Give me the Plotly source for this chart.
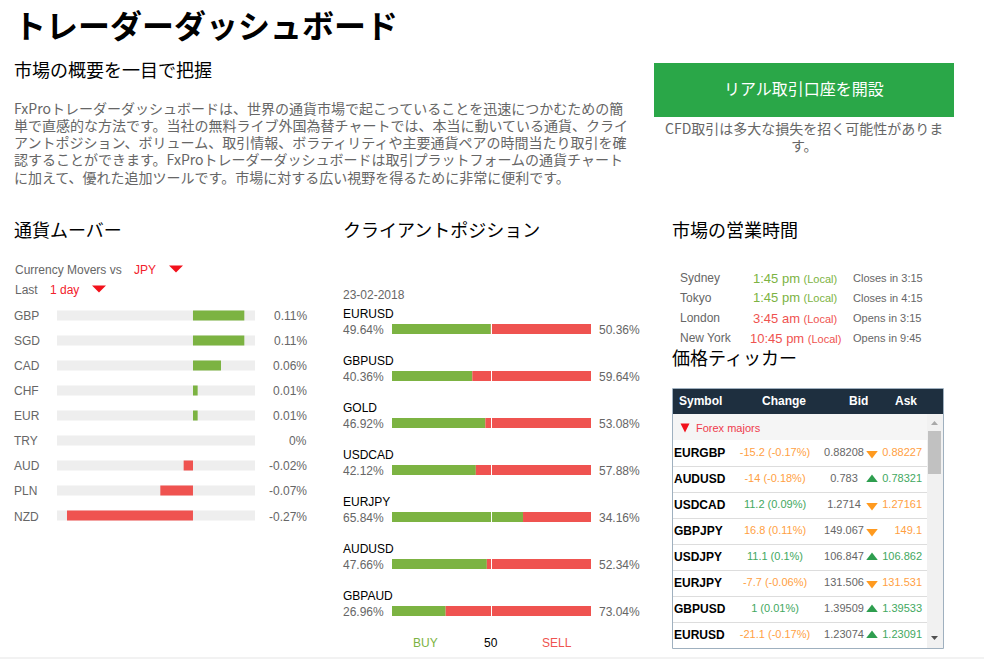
import plotly.graph_objects as go

W, H = 984, 659
JP = "Noto Sans CJK JP, sans-serif"
AR = "Liberation Sans, Arial, sans-serif"
GREEN = "#7cb342"
RED = "#ef5350"
GREY = "#666666"
ORANGE = "#ff9f43"
UP = "#43a860"

# currency movers
mover_names = ["GBP", "SGD", "CAD", "CHF", "EUR", "TRY", "AUD", "PLN", "NZD"]
mover_values = [0.11, 0.11, 0.06, 0.01, 0.01, 0, -0.02, -0.07, -0.27]

# client positions
pairs = ["EURUSD", "GBPUSD", "GOLD", "USDCAD", "EURJPY", "AUDUSD", "GBPAUD"]
buy = [49.64, 40.36, 46.92, 42.12, 65.84, 47.66, 26.96]
sell = [50.36, 59.64, 53.08, 57.88, 34.16, 52.34, 73.04]

# market hours
cities = ["Sydney", "Tokyo", "London", "New York"]
city_times = ["1:45 pm", "1:45 pm", "3:45 am", "10:45 pm"]
city_open = [True, True, False, False]
city_status = ["Closes in 3:15", "Closes in 4:15", "Opens in 3:15", "Opens in 9:45"]

# price ticker
symbols = ["EURGBP", "AUDUSD", "USDCAD", "GBPJPY", "USDJPY", "EURJPY", "GBPUSD", "EURUSD"]
changes = ["-15.2 (-0.17%)", "-14 (-0.18%)", "11.2 (0.09%)", "16.8 (0.11%)",
           "11.1 (0.1%)", "-7.7 (-0.06%)", "1 (0.01%)", "-21.1 (-0.17%)"]
change_up = [False, False, True, False, True, False, True, False]
bids = ["0.88208", "0.783", "1.2714", "149.067", "106.847", "131.506", "1.39509", "1.23074"]
asks = ["0.88227", "0.78321", "1.27161", "149.1", "106.862", "131.531", "1.39533", "1.23091"]
ask_up = [False, True, False, False, True, False, True, True]

body_lines = [
    "FxProトレーダーダッシュボードは、世界の通貨市場で起こっていることを迅速につかむための簡",
    "単で直感的な方法です。当社の無料ライブ外国為替チャートでは、本当に動いている通貨、クライ",
    "アントポジション、ボリューム、取引情報、ボラティリティや主要通貨ペアの時間当たり取引を確",
    "認することができます。FxProトレーダーダッシュボードは取引プラットフォームの通貨チャート",
    "に加えて、優れた追加ツールです。市場に対する広い視野を得るために非常に便利です。",
]


def px(x):
    return x / W


def py(y):
    return 1 - y / H


annotations = []
shapes = []


def label(x, y, text, size=12, color=GREY, font=AR, anchor="left", yref="paper"):
    # Noto CJK sits a pixel lower than the reference font
    if font == JP:
        y -= 1
    annotations.append(dict(
        x=px(x), xref="paper", y=py(y) if yref == "paper" else y, yref=yref,
        yshift=0 if yref == "paper" else -1,
        text=text, showarrow=False, xanchor=anchor, yanchor="middle", borderpad=0, borderwidth=0,
        font=dict(family=font, size=size, color=color),
    ))


def rect(x0, y0, x1, y1, fill, line=None, layer="below"):
    shapes.append(dict(
        type="rect", xref="paper", yref="paper", x0=px(x0), x1=px(x1), y0=py(y0), y1=py(y1),
        fillcolor=fill, line=dict(width=1 if line else 0, color=line or fill), layer=layer,
    ))


def triangle(x, y, w, h, color, down=True):
    tip = y + h / 2 if down else y - h / 2
    base = y - h / 2 if down else y + h / 2
    shapes.append(dict(
        type="path", xref="paper", yref="paper", fillcolor=color, line=dict(width=0),
        path=f"M {px(x - w / 2)} {py(base)} L {px(x + w / 2)} {py(base)} L {px(x)} {py(tip)} Z",
    ))


fig = go.Figure()

# movers: grey track first, then the value from zero
mover_range = [-0.2914, 0.1329]
fig.add_trace(go.Bar(
    y=mover_names, x=[mover_range[1] - mover_range[0]] * len(mover_names), base=mover_range[0],
    orientation="h", width=0.4, marker=dict(color="#eeeeee", line=dict(width=0)),
    xaxis="x", yaxis="y",
))
fig.add_trace(go.Bar(
    y=mover_names, x=mover_values, base=0, orientation="h", width=0.4,
    marker=dict(color=[GREEN if v > 0 else RED for v in mover_values], line=dict(width=0)),
    xaxis="x", yaxis="y",
))

# clients: buy and sell side by side on 0-100
fig.add_trace(go.Bar(
    y=pairs, x=buy, base=0, orientation="h", width=10 / 47,
    marker=dict(color=GREEN, line=dict(width=0)), xaxis="x2", yaxis="y2",
))
fig.add_trace(go.Bar(
    y=pairs, x=sell, base=buy, orientation="h", width=10 / 47,
    marker=dict(color=RED, line=dict(width=0)), xaxis="x2", yaxis="y2",
))
shapes.append(dict(type="line", xref="x2", yref="y2 domain", x0=50, x1=50, y0=0, y1=1,
                   line=dict(color="white", width=1), layer="above"))

# ticker rows, x axis is in pixels from the left of the table
rows = list(range(len(symbols)))
text_style = dict(mode="text", xaxis="x3", yaxis="y3", cliponaxis=False)
fig.add_trace(go.Scatter(
    x=[1] * len(rows), y=rows, text=symbols, textposition="middle right",
    textfont=dict(family=AR, size=12, color="#000000", weight="bold"), **text_style,
))
fig.add_trace(go.Scatter(
    x=[102] * len(rows), y=rows, text=changes, textposition="middle center",
    textfont=dict(family=AR, size=11, color=[UP if u else ORANGE for u in change_up]), **text_style,
))
fig.add_trace(go.Scatter(
    x=[171] * len(rows), y=rows, text=bids, textposition="middle center",
    textfont=dict(family=AR, size=11, color=GREY), **text_style,
))
fig.add_trace(go.Scatter(
    x=[199] * len(rows), y=rows, mode="markers", xaxis="x3", yaxis="y3",
    marker=dict(
        symbol=["triangle-up" if u else "triangle-down" for u in ask_up], size=10,
        color=["#2e9e4f" if u else "#ff9a1f" for u in ask_up], line=dict(width=0),
    ),
))
fig.add_trace(go.Scatter(
    x=[249] * len(rows), y=rows, text=asks, textposition="middle left",
    textfont=dict(family=AR, size=11, color=[UP if u else ORANGE for u in ask_up]), **text_style,
))

# header block
label(14, 25, "<b>トレーダーダッシュボード</b>", 32, "#000000", JP)
label(14, 70, "市場の概要を一目で把握", 18, "#000000", JP)
for i, line in enumerate(body_lines):
    label(14, 108.5 + i * 17.3, line, 14, GREY, JP)
rect(654, 63, 954, 117, "#2aa748")
label(804, 89, "リアル取引口座を開設", 16, "white", JP, "center")
label(804, 129, "CFD取引は多大な損失を招く可能性がありま", 14, GREY, JP, "center")
label(804, 146, "す。", 14, GREY, JP, "center")

# section titles
label(14, 230, "通貨ムーバー", 18, "#000000", JP)
label(343, 230, "クライアントポジション", 18, "#000000", JP)
label(672, 230, "市場の営業時間", 18, "#000000", JP)
label(672, 358, "価格ティッカー", 18, "#000000", JP)

# movers labels
label(15, 270, "Currency Movers vs")
label(134, 270, "JPY", color="#f2212b")
triangle(176, 269, 14, 7, "#f2111b")
label(15, 290, "Last")
label(50, 290, "1 day", color="#f2212b")
triangle(99, 289, 14, 7, "#f2111b")
for name, value in zip(mover_names, mover_values):
    label(14, name, name, yref="y")
    label(307, name, f"{value:g}%", anchor="right", yref="y")

# client labels
label(343, 295, "23-02-2018")
for i, pair in enumerate(pairs):
    label(343, 314 + i * 47, pair, color="#000000")
    label(343, pair, f"{buy[i]:.2f}%", yref="y2")
    label(640, pair, f"{sell[i]:.2f}%", anchor="right", yref="y2")
label(425, 643, "BUY", color=GREEN, anchor="center")
label(491, 643, "50", color="#000000", anchor="center")
label(557, 643, "SELL", color=RED, anchor="center")

# market hours
for i, city in enumerate(cities):
    y = 278 + i * 20
    color = GREEN if city_open[i] else RED
    label(680, y, city)
    label(795, y, f'{city_times[i]} <span style="font-size:11px">(Local)</span>', 13, color, AR, "center")
    label(853, y, city_status[i], 11)

# ticker frame, header and scrollbar
rect(927, 414, 943, 648, "#f1f1f1")
rect(673, 414, 927, 440, "#f5f5f5")
rect(672.5, 388.5, 943.5, 648.5, "rgba(0,0,0,0)", "#9fb0bf", "above")
rect(673, 389, 943, 414, "#1e2f3f")
rect(928, 431, 941, 474, "#c1c1c1")
triangle(934.5, 423, 7, 4, "#a8a8a8", down=False)
triangle(934.5, 638, 7, 4, "#505050")
for x, text in [(700, "Symbol"), (784, "Change"), (858, "Bid"), (906, "Ask")]:
    label(x, 401, f"<b>{text}</b>", 12, "white", AR, "center")
triangle(685, 428, 9, 9, "#f2111b")
label(696, 428, "Forex majors", 11, "#ef3b4c")

# footer rule
shapes.append(dict(type="line", xref="paper", yref="paper", x0=0, x1=1, y0=py(658), y1=py(658),
                   line=dict(color="#e5e5e5", width=1)))

hidden = dict(visible=False, fixedrange=True)
fig.update_layout(
    width=W, height=H, autosize=False, margin=dict(l=0, r=0, t=0, b=0, pad=0),
    paper_bgcolor="white", plot_bgcolor="rgba(0,0,0,0)", showlegend=False, barmode="overlay",
    hovermode=False,
    xaxis=dict(domain=[px(57), px(255)], range=mover_range, anchor="y", **hidden),
    yaxis=dict(domain=[py(528), py(303)], type="category", categoryarray=mover_names,
               range=[len(mover_names) - 0.5, -0.5], anchor="x", **hidden),
    xaxis2=dict(domain=[px(392), px(591)], range=[0, 100], anchor="y2", **hidden),
    yaxis2=dict(domain=[py(634.5), py(305.5)], type="category", categoryarray=pairs,
                range=[len(pairs) - 0.5, -0.5], anchor="x2", **hidden),
    xaxis3=dict(domain=[px(673), px(927)], range=[0, 254], anchor="y3", **hidden),
    yaxis3=dict(domain=[py(648.5), py(440.5)], range=[len(symbols) - 0.5, -0.5], anchor="x3",
                tick0=-0.5, dtick=1, showgrid=True, gridcolor="#dddddd", gridwidth=1,
                zeroline=False, showline=False, showticklabels=False, ticks="", fixedrange=True),
    annotations=annotations, shapes=shapes,
)

fig.write_html(
    "out.html",
    config={"displayModeBar": False},
    post_script="document.body.style.margin='0';document.body.style.overflow='hidden';",
)
